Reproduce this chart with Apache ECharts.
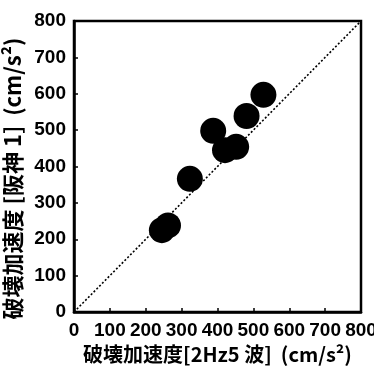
<!DOCTYPE html>
<html>
<head>
<meta charset="utf-8">
<script src="https://cdn.jsdelivr.net/npm/echarts@6/dist/echarts.min.js"></script>
<style>
html,body{margin:0;padding:0;background:#fff;}
#chart{width:374px;height:367px;}
</style>
</head>
<body>
<div id="chart"></div>
<script>
// Data
const xValues = [245, 262, 323, 388, 421, 452, 481, 528]; // 破壊加速度[2Hz5 波]
const yValues = [225, 238, 366, 498, 445, 454, 539, 597]; // 破壊加速度[阪神 1]
const refLineX = [0, 800];
const refLineY = [0, 800];
const axisTicks = [0, 100, 200, 300, 400, 500, 600, 700, 800];
const xTitle = '破壊加速度[2Hz5 波]  (cm/s²)';
const yTitle = '破壊加速度 [阪神 1]  (cm/s²)';

const points = xValues.map((x, i) => [x, yValues[i]]);
const refLine = refLineX.map((x, i) => [x, refLineY[i]]);

const tickFont = {
  color: '#000',
  fontFamily: '"Liberation Sans", Arial, sans-serif',
  fontWeight: 'bold',
  fontSize: 19
};

const chart = echarts.init(document.getElementById('chart'), null, {renderer: 'canvas'});
chart.setOption({
  animation: false,
  backgroundColor: '#fff',
  grid: {
    left: 74, right: 13, top: 21, bottom: 55,
    containLabel: false, outerBoundsMode: 'none',
    show: true, borderColor: '#000', borderWidth: 2.5, backgroundColor: 'transparent'
  },
  xAxis: {
    type: 'value', min: axisTicks[0], max: axisTicks[axisTicks.length - 1], interval: 100,
    name: xTitle, nameLocation: 'middle', nameGap: 27,
    nameTextStyle: {
      color: '#000', fontFamily: '"Noto Sans CJK JP", sans-serif', fontWeight: 'bold',
      fontSize: 20
    },
    axisLine: {show: true, lineStyle: {color: '#000', width: 2.5}},
    axisTick: {show: true, inside: true, length: 4, lineStyle: {color: '#000', width: 1.5}},
    axisLabel: Object.assign({margin: 9}, tickFont),
    splitLine: {show: false}
  },
  yAxis: {
    type: 'value', min: axisTicks[0], max: axisTicks[axisTicks.length - 1], interval: 100,
    name: yTitle, nameLocation: 'middle', nameGap: 45, nameRotate: 90,
    nameTextStyle: {
      color: '#000', fontFamily: '"Noto Sans CJK JP", sans-serif', fontWeight: 'bold',
      fontSize: 22, padding: [0, 24, 0, 0]
    },
    axisLine: {show: true, lineStyle: {color: '#000', width: 2.5}},
    axisTick: {show: true, inside: true, length: 4, lineStyle: {color: '#000', width: 1.5}},
    axisLabel: Object.assign({margin: 8}, tickFont),
    splitLine: {show: false}
  },
  series: [
    {
      type: 'line', data: refLine, symbol: 'none', silent: true,
      lineStyle: {color: '#000', width: 1.6, type: [2, 2]}
    },
    {
      type: 'scatter', data: points, symbol: 'circle', symbolSize: 26,
      itemStyle: {color: '#000', opacity: 1}
    }
  ]
});
</script>
</body>
</html>
